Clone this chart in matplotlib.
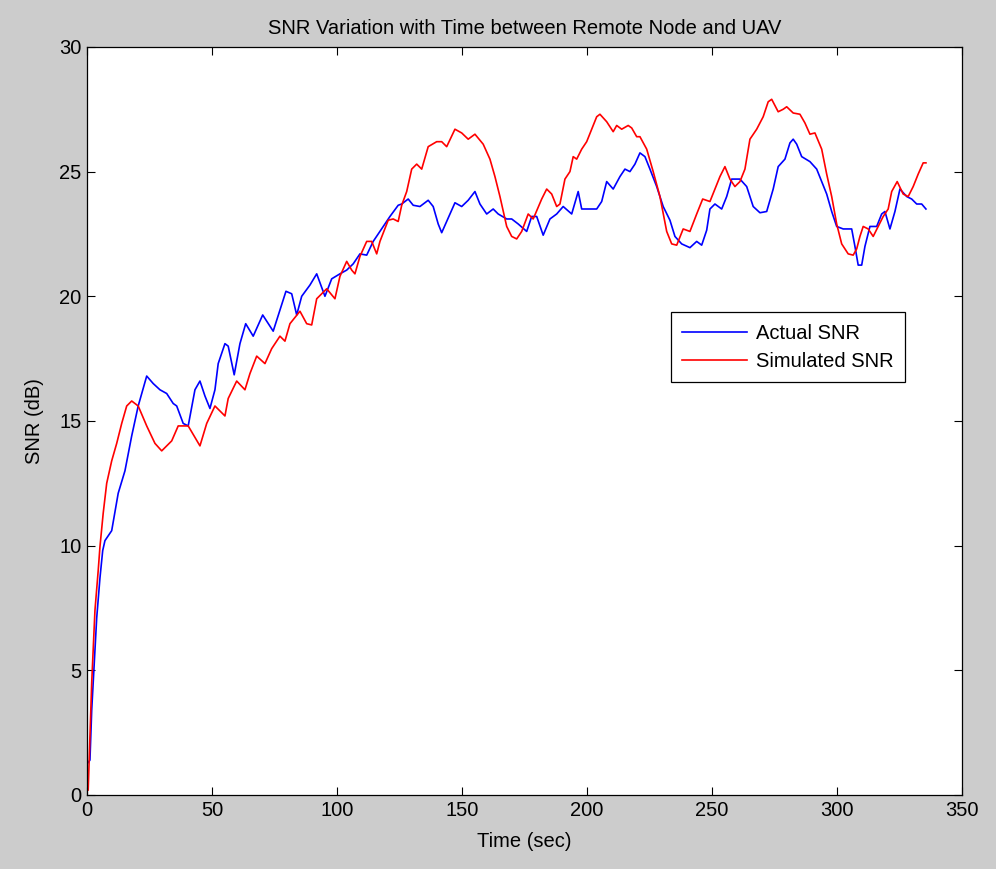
import numpy as np
import matplotlib
matplotlib.use("Agg")
import matplotlib.pyplot as plt

plt.rcParams['font.family'] = ['Liberation Sans', 'DejaVu Sans']

# Actual SNR (blue)
t_actual = [0.5, 1.2, 1.9, 3.2, 3.9, 5.2, 6.3, 7.2, 9.9, 12.5, 15.2, 17.9, 20.5, 23.9,
            26.5, 29.2, 31.9, 34.5, 35.9, 38.5, 40.5, 43.2, 45.2, 47.2, 49.2, 51.2,
            52.5, 55.2, 56.5, 58.9, 61.2, 63.5, 66.5, 70.3, 74.5, 79.6, 81.9, 83.9,
            85.9, 89.2, 91.9, 95.2, 97.9, 101.2, 103.9, 106.5, 109.2, 111.9, 114.5,
            118.5, 121.2, 124.5, 125.9, 128.5, 130.5, 133.2, 136.5, 138.5, 140.5,
            141.9, 143.9, 147.2, 149.9, 152.5, 155.2, 157.2, 159.9, 162.5, 164.5,
            167.9, 169.9, 172.5, 175.9, 177.9, 179.9, 182.5, 185.2, 187.9, 190.5,
            193.9, 196.5, 197.9, 199.9, 203.9, 205.9, 207.9, 210.5, 213.2, 215.2,
            217.2, 219.2, 221.2, 223.2, 225.2, 227.9, 230.5, 233.2, 235.2, 237.9,
            241.2, 243.9, 245.9, 247.9, 249.2, 251.2, 253.9, 255.9, 257.9, 261.2,
            263.9, 266.5, 269.2, 271.9, 274.5, 276.5, 279.2, 281.2, 282.5, 283.9,
            285.9, 289.2, 291.9, 293.9, 295.9, 297.9, 299.9, 302.5, 305.9, 307.2,
            308.5, 309.9, 311.2, 313.2, 315.9, 317.9, 319.2, 321.2, 323.2, 325.2,
            327.9, 329.9, 331.9, 333.9, 335.6]
snr_actual = [1.3, 1.4, 3.4, 5.8, 7.1, 8.7, 9.8, 10.2, 10.6, 12.1, 13.0, 14.4, 15.6, 16.8,
              16.5, 16.25, 16.1, 15.7, 15.6, 14.9, 14.8, 16.25, 16.6, 16.0, 15.5, 16.25,
              17.3, 18.1, 18.0, 16.85, 18.1, 18.9, 18.4, 19.25, 18.6, 20.2, 20.1, 19.25,
              20.0, 20.45, 20.9, 20.0, 20.7, 20.9, 21.05, 21.3, 21.7, 21.65, 22.2,
              22.8, 23.2, 23.65, 23.7, 23.9, 23.65, 23.6, 23.85, 23.6, 22.9,
              22.55, 23.0, 23.75, 23.6, 23.85, 24.2, 23.7, 23.3, 23.5, 23.3,
              23.1, 23.1, 22.9, 22.6, 23.2, 23.2, 22.45, 23.1, 23.3, 23.6,
              23.3, 24.2, 23.5, 23.5, 23.5, 23.8, 24.6, 24.3, 24.8, 25.1,
              25.0, 25.3, 25.75, 25.6, 25.1, 24.4, 23.6, 23.05, 22.4, 22.1,
              21.95, 22.2, 22.05, 22.65, 23.5, 23.7, 23.5, 24.0, 24.7, 24.7,
              24.4, 23.6, 23.35, 23.4, 24.3, 25.2, 25.5, 26.15, 26.3, 26.1,
              25.6, 25.4, 25.1, 24.6, 24.1, 23.4, 22.8, 22.7, 22.7, 22.0,
              21.25, 21.25, 22.0, 22.8, 22.8, 23.3, 23.4, 22.7, 23.4, 24.3,
              24.0, 23.9, 23.7, 23.7, 23.5]

# Simulated SNR (red)
t_sim = [0.5, 1.9, 3.2, 4.5, 5.2, 6.5, 7.9, 9.9, 11.9, 13.9, 15.9, 17.9, 20.5, 23.9,
         27.2, 29.9, 33.9, 36.5, 40.5, 45.2, 47.9, 51.2, 55.2, 56.5, 59.9, 63.2,
         65.2, 67.9, 71.2, 73.9, 77.2, 79.2, 81.2, 85.2, 87.9, 89.9, 91.9, 95.9,
         99.2, 101.2, 103.9, 105.9, 107.2, 109.2, 111.9, 113.9, 115.9, 117.2,
         120.5, 122.5, 124.5, 125.9, 127.9, 129.9, 131.9, 133.9, 136.5, 139.9,
         141.9, 143.9, 147.2, 149.9, 152.5, 155.2, 158.5, 161.2, 163.2, 165.2,
         167.9, 169.9, 171.9, 173.9, 176.5, 178.5, 181.9, 183.9, 185.9, 187.9,
         189.2, 191.2, 193.2, 194.5, 195.9, 197.9, 199.9, 201.9, 203.9, 205.2,
         207.9, 210.5, 211.9, 213.9, 216.5, 217.9, 219.9, 221.2, 223.9, 226.5,
         229.2, 231.9, 233.9, 235.9, 238.5, 241.2, 243.9, 246.3, 249.2, 251.2,
         253.2, 255.2, 257.2, 259.2, 261.2, 263.2, 265.2, 267.9, 270.5, 272.5,
         273.9, 276.5, 278.5, 279.9, 282.5, 285.2, 287.2, 289.2, 291.2, 293.9,
         295.9, 297.9, 299.9, 301.9, 304.5, 306.5, 307.9, 309.2, 310.5, 312.5,
         314.5, 316.5, 318.5, 320.5, 321.9, 324.1, 326.5, 328.5, 330.5, 332.5,
         334.5, 335.6]
snr_sim = [0.2, 4.5, 7.4, 9.0, 9.95, 11.3, 12.5, 13.4, 14.1, 14.9, 15.6, 15.8, 15.6, 14.8,
           14.1, 13.8, 14.2, 14.8, 14.8, 14.0, 14.9, 15.6, 15.2, 15.9, 16.6, 16.25,
           16.9, 17.6, 17.3, 17.9, 18.4, 18.2, 18.9, 19.4, 18.9, 18.85, 19.9, 20.3,
           19.9, 20.8, 21.4, 21.05, 20.9, 21.6, 22.2, 22.2, 21.7, 22.2,
           23.05, 23.1, 23.0, 23.65, 24.2, 25.1, 25.3, 25.1, 26.0, 26.2,
           26.2, 26.0, 26.7, 26.55, 26.3, 26.5, 26.1, 25.5, 24.8, 24.0,
           22.8, 22.4, 22.3, 22.6, 23.3, 23.1, 23.9, 24.3, 24.1, 23.6,
           23.7, 24.7, 25.0, 25.6, 25.5, 25.9, 26.2, 26.7, 27.2, 27.3,
           27.0, 26.6, 26.85, 26.7, 26.85, 26.75, 26.4, 26.4, 25.9, 25.0,
           24.0, 22.6, 22.1, 22.05, 22.7, 22.6, 23.3, 23.9, 23.8, 24.3,
           24.8, 25.2, 24.7, 24.4, 24.6, 25.1, 26.3, 26.7, 27.2, 27.8,
           27.9, 27.4, 27.5, 27.6, 27.35, 27.3, 26.95, 26.5, 26.55, 25.9,
           24.9, 24.0, 22.9, 22.1, 21.7, 21.65, 21.9, 22.4, 22.8, 22.7,
           22.4, 22.8, 23.2, 23.5, 24.2, 24.6, 24.1, 24.0, 24.4, 24.9,
           25.35, 25.35]

fs = 14.5

fig = plt.figure(figsize=(9.96, 8.69), dpi=100, facecolor='#cccccc')
ax = fig.add_axes([0.0873, 0.0852, 0.8785, 0.8608])
ax.plot(t_actual, snr_actual, color='#0000ff', lw=1.2, label='Actual SNR')
ax.plot(t_sim, snr_sim, color='#ff0000', lw=1.2, label='Simulated SNR')

ax.set_xlim(0, 350)
ax.set_ylim(0, 30)
ax.set_xticks(np.arange(0, 351, 50))
ax.set_yticks(np.arange(0, 31, 5))
ax.tick_params(direction='in', length=6, width=0.8, top=True, right=True,
               labelsize=fs, pad=4)
for s in ax.spines.values():
    s.set_linewidth(0.9)

ax.set_xlabel('Time (sec)', fontsize=fs, labelpad=9)
ax.set_ylabel('SNR (dB)', fontsize=fs, labelpad=11)
ax.set_title('SNR Variation with Time between Remote Node and UAV', fontsize=fs, pad=9)

leg = ax.legend(loc='upper right', bbox_to_anchor=(0.9345, 0.645), borderaxespad=0,
                fancybox=False, edgecolor='black', framealpha=1, fontsize=fs,
                handlelength=3.2, handletextpad=0.45, borderpad=0.55,
                labelspacing=0.45)
leg.get_frame().set_linewidth(0.9)

fig.savefig('out.png', dpi=100, facecolor=fig.get_facecolor())
